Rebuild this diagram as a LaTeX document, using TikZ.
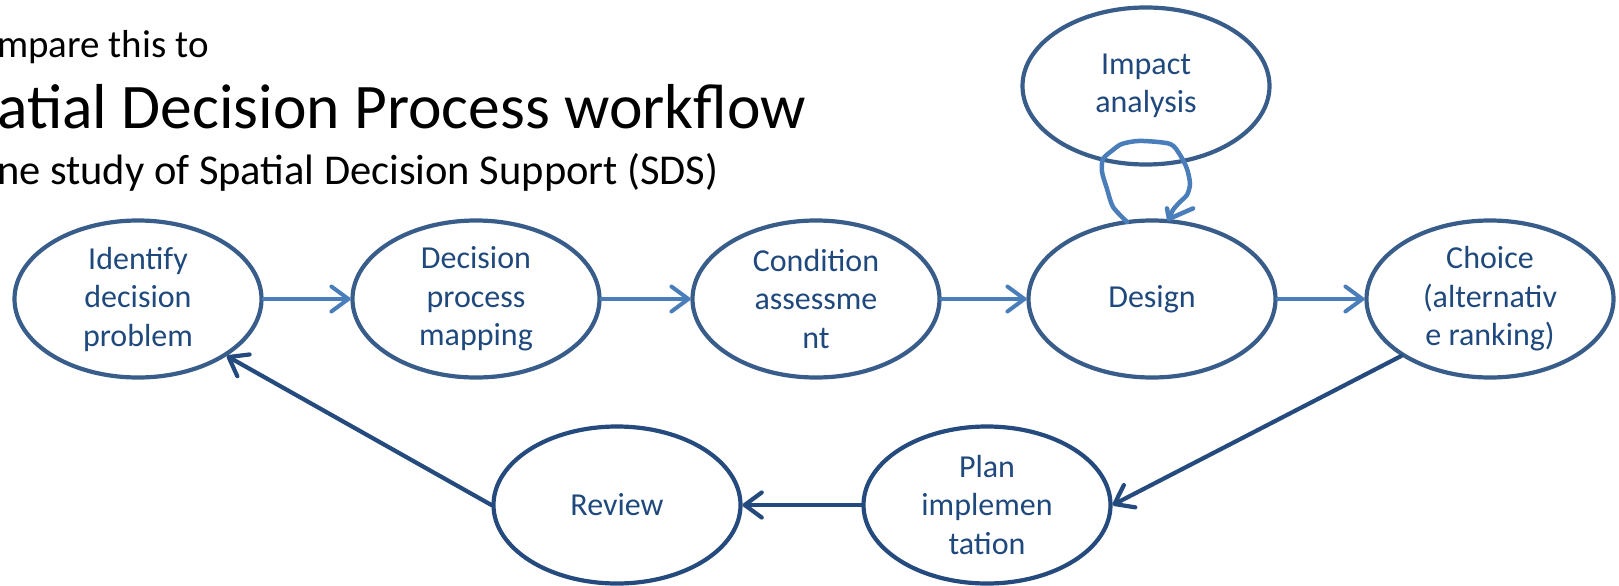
\documentclass[tikz,border=0pt]{standalone}
\usepackage{fontspec}
\setmainfont{Carlito}
\usepackage{tikz}
\usetikzlibrary{arrows.meta,shapes.geometric}
\usepackage{xcolor}
\definecolor{stageline}{HTML}{385D8A}
\definecolor{lowline}{HTML}{244A7E}
\definecolor{flowblue}{HTML}{4A7EBB}
\definecolor{stagetext}{HTML}{1F497D}

\begin{document}
\begin{tikzpicture}[x=1pt,y=-1pt,>={Straight Barb[length=17pt,width=25pt,round]},line cap=round,line join=round,
  stage/.style={ellipse,draw=stageline,line width=4.2pt,minimum width=247pt,minimum height=157pt,inner sep=0pt,
    text=stagetext,align=center,font=\fontsize{32}{38.5}\selectfont},
  lowstage/.style={stage,draw=lowline},
  flow/.style={->,flowblue,line width=4pt},
  back/.style={->,lowline,line width=4.2pt},
  heading/.style={anchor=base west,inner sep=0pt,text=black}]
\useasboundingbox (0,0) rectangle (1619,586);
\node[heading,font=\fontsize{39}{39}\selectfont] (intro) at (-3,57) {mpare this to};
\node[heading,font=\fontsize{63.5}{63.5}\selectfont] (title) at (-3,128) {atial Decision Process workflow};
\node[heading,font=\fontsize{42.5}{42.5}\selectfont] (subtitle) at (-3,184) {ne study of Spatial Decision Support (SDS)};
\node[stage] (identify) at (138,299) {Identify\\decision\\problem};
\node[stage] (mapping) at (476,299) {Decision\\process\\mapping};
\node[stage] (condition) at (816,299) {Condition\\assessme\\nt};
\node[stage] (design) at (1152,299) {Design};
\node[stage] (choice) at (1490,299) {Choice\\(alternativ\\e ranking)};
\node[stage] (impact) at (1146,86) {Impact\\analysis};
\node[lowstage] (plan) at (987,505) {Plan\\implemen\\tation};
\node[lowstage] (review) at (617,505) {Review};
\draw[flow] (identify.east) -- (mapping.west);
\draw[flow] (mapping.east) -- (condition.west);
\draw[flow] (condition.east) -- (design.west);
\draw[flow] (design.east) -- (choice.west);
\draw[back] (choice.south west) -- (plan.east);
\draw[back] (plan.west) -- (review.east);
\draw[back] (review.west) -- (identify.south east);
\begin{scope}[shift={(design.north)},flowblue,line width=4.5pt]
\draw plot[smooth,tension=0.45] coordinates {(-25,3.5) (-39,-11.5) (-45,-29.5) (-50,-46.5) (-49,-59.5) (-39,-68.5) (-30,-74.5) (-12,-77.5) (18,-74.5) (28,-63.5) (35,-49.5) (38,-34.5) (35,-23.5) (28,-16.5) (21,-8.5) (17,0.5)};
\draw (15,-10) -- (17,0.5) -- (41,-10);
\end{scope}
\end{tikzpicture}
\end{document}
